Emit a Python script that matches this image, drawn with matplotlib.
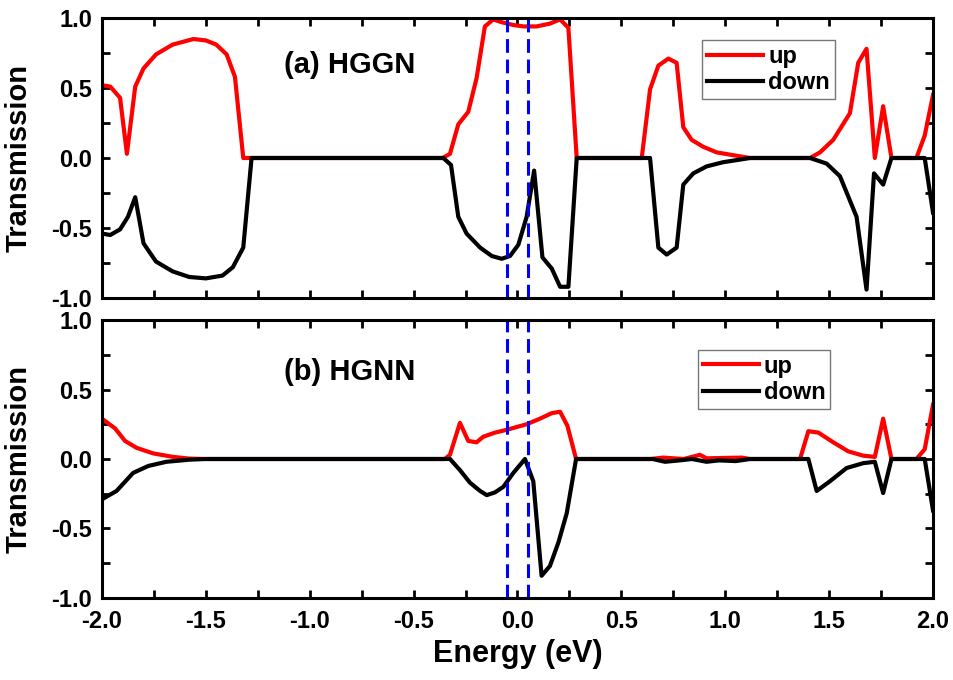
import numpy as np
import matplotlib
matplotlib.use('Agg')
import matplotlib.pyplot as plt
from matplotlib.ticker import MultipleLocator, FormatStrFormatter

plt.rcParams['font.family'] = ['Liberation Sans', 'DejaVu Sans']
plt.rcParams['font.weight'] = 'bold'

# (a) HGGN, spin up
e_a_up = [-2.00, -1.96, -1.913, -1.88, -1.84, -1.80, -1.74, -1.66, -1.56, -1.50, -1.45, -1.40, -1.36, -1.32,
          -0.36, -0.325, -0.285, -0.237, -0.197, -0.157, -0.117, -0.076, -0.02, 0.028, 0.092, 0.156, 0.205,
          0.245, 0.285, 0.598, 0.638, 0.678, 0.726, 0.766, 0.798, 0.838, 0.894, 0.959, 1.039, 1.119, 1.408,
          1.456, 1.52, 1.60, 1.64, 1.68, 1.72, 1.76, 1.80, 1.92, 1.96, 2.00]
t_a_up = [0.52, 0.51, 0.43, 0.03, 0.51, 0.64, 0.74, 0.81, 0.85, 0.84, 0.81, 0.74, 0.58, 0.0,
          0.0, 0.03, 0.24, 0.33, 0.57, 0.94, 0.99, 0.97, 0.95, 0.94, 0.94, 0.96, 0.99,
          0.93, 0.0, 0.0, 0.49, 0.66, 0.71, 0.68, 0.22, 0.13, 0.08, 0.04, 0.02, 0.0, 0.0,
          0.04, 0.13, 0.32, 0.68, 0.78, 0.0, 0.37, 0.0, 0.0, 0.16, 0.45]

# (a) HGGN, spin down
e_a_dn = [-2.00, -1.96, -1.913, -1.875, -1.84, -1.80, -1.74, -1.66, -1.58, -1.50, -1.42, -1.37, -1.32, -1.28,
          -0.357, -0.32, -0.285, -0.245, -0.18, -0.124, -0.076, -0.036, 0.004, 0.044, 0.08, 0.12, 0.165,
          0.205, 0.245, 0.285, 0.638, 0.678, 0.718, 0.766, 0.798, 0.846, 0.91, 0.99, 1.12, 1.408, 1.488,
          1.552, 1.632, 1.68, 1.716, 1.76, 1.80, 1.96, 2.00]
t_a_dn = [-0.54, -0.55, -0.51, -0.42, -0.28, -0.61, -0.74, -0.81, -0.85, -0.86, -0.84, -0.78, -0.64, 0.0,
          0.0, -0.05, -0.42, -0.54, -0.64, -0.70, -0.72, -0.70, -0.62, -0.42, -0.09, -0.71, -0.79,
          -0.92, -0.92, 0.0, 0.0, -0.64, -0.69, -0.64, -0.19, -0.11, -0.06, -0.03, 0.0, 0.0, -0.04,
          -0.13, -0.42, -0.94, -0.11, -0.19, 0.0, 0.0, -0.39]

# (b) HGNN, spin up
e_b_up = [-2.00, -1.937, -1.889, -1.833, -1.753, -1.657, -1.58, -1.50, -0.35, -0.325, -0.277, -0.237,
          -0.197, -0.165, -0.108, -0.052, 0.044, 0.108, 0.165, 0.205, 0.24, 0.282, 0.64, 0.70, 0.80,
          0.878, 0.91, 1.08, 1.12, 1.36, 1.40, 1.448, 1.52, 1.592, 1.664, 1.72, 1.76, 1.80, 1.92, 1.96, 2.00]
t_b_up = [0.29, 0.22, 0.13, 0.08, 0.04, 0.015, 0.003, 0.0, 0.0, 0.03, 0.26, 0.13,
          0.12, 0.16, 0.19, 0.21, 0.25, 0.29, 0.33, 0.34, 0.24, 0.0, 0.0, 0.01, 0.0,
          0.03, 0.005, 0.01, 0.0, 0.0, 0.20, 0.19, 0.12, 0.055, 0.024, 0.015, 0.29, 0.0, 0.0, 0.07, 0.39]

# (b) HGNN, spin down
e_b_dn = [-2.00, -1.93, -1.85, -1.777, -1.69, -1.58, -1.50, -0.325, -0.277, -0.229, -0.18, -0.148,
          -0.108, -0.068, -0.02, 0.036, 0.076, 0.116, 0.156, 0.197, 0.237, 0.282, 0.65, 0.71, 0.78,
          0.84, 0.91, 0.97, 1.05, 1.12, 1.40, 1.44, 1.504, 1.584, 1.664, 1.72, 1.76, 1.80, 1.96, 2.00]
t_b_dn = [-0.29, -0.23, -0.10, -0.05, -0.02, -0.005, 0.0, 0.0, -0.08, -0.17, -0.23, -0.26,
          -0.24, -0.20, -0.10, 0.0, -0.16, -0.84, -0.77, -0.60, -0.39, 0.0, 0.0, -0.02, -0.01,
          0.0, -0.02, -0.01, -0.015, 0.0, 0.0, -0.23, -0.16, -0.065, -0.03, -0.02, -0.245, 0.0, 0.0, -0.37]

bias_window = [-0.05, 0.05]

fig = plt.figure(figsize=(9.54, 6.8), dpi=100)
ax1 = fig.add_axes([0.1069, 0.5618, 0.8711, 0.4117])
ax2 = fig.add_axes([0.1069, 0.1206, 0.8711, 0.4088])

panels = [
    (ax1, e_a_up, t_a_up, e_a_dn, t_a_dn, '(a) HGGN', 0.832, (0.722, 0.921)),
    (ax2, e_b_up, t_b_up, e_b_dn, t_b_dn, '(b) HGNN', 0.813, (0.717, 0.892)),
]

for ax, eu, tu, ed, td, title, ty, leg_pos in panels:
    ax.plot(eu, tu, color='red', lw=3, label='up', solid_joinstyle='round')
    ax.plot(ed, td, color='black', lw=3, label='down', solid_joinstyle='round')
    for x in bias_window:
        ax.axvline(x, color='blue', lw=2.2, dashes=(4.5, 2.2))
    ax.set_xlim(-2.0, 2.0)
    ax.set_ylim(-1.0, 1.0)
    ax.xaxis.set_major_locator(MultipleLocator(0.5))
    ax.xaxis.set_minor_locator(MultipleLocator(0.25))
    ax.yaxis.set_major_locator(MultipleLocator(0.5))
    ax.yaxis.set_minor_locator(MultipleLocator(0.25))
    ax.xaxis.set_major_formatter(FormatStrFormatter('%.1f'))
    ax.yaxis.set_major_formatter(FormatStrFormatter('%.1f'))
    ax.tick_params(which='both', direction='in', top=True, right=True, length=5.5, width=2)
    ax.tick_params(axis='y', labelsize=17, pad=7)
    ax.tick_params(axis='x', labelsize=17, pad=9)
    for s in ax.spines.values():
        s.set_linewidth(2.2)
    ax.set_ylabel('Transmission', fontsize=21, fontweight='bold')
    ax.yaxis.set_label_coords(-0.083, 0.5)
    ax.text(0.219, ty, title, transform=ax.transAxes, fontsize=21, fontweight='bold', va='center', ha='left')
    leg = ax.legend(loc='upper left', bbox_to_anchor=leg_pos, fontsize=17, frameon=True, fancybox=False,
                    edgecolor='#555555', handlelength=2.4, handletextpad=0.2, borderpad=0.2,
                    labelspacing=0.15, borderaxespad=0)
    leg.get_frame().set_linewidth(1.0)

ax1.tick_params(axis='x', labelbottom=False)
ax2.set_xlabel('Energy (eV)', fontsize=22, fontweight='bold', labelpad=4)

fig.savefig('out.png', dpi=100)
